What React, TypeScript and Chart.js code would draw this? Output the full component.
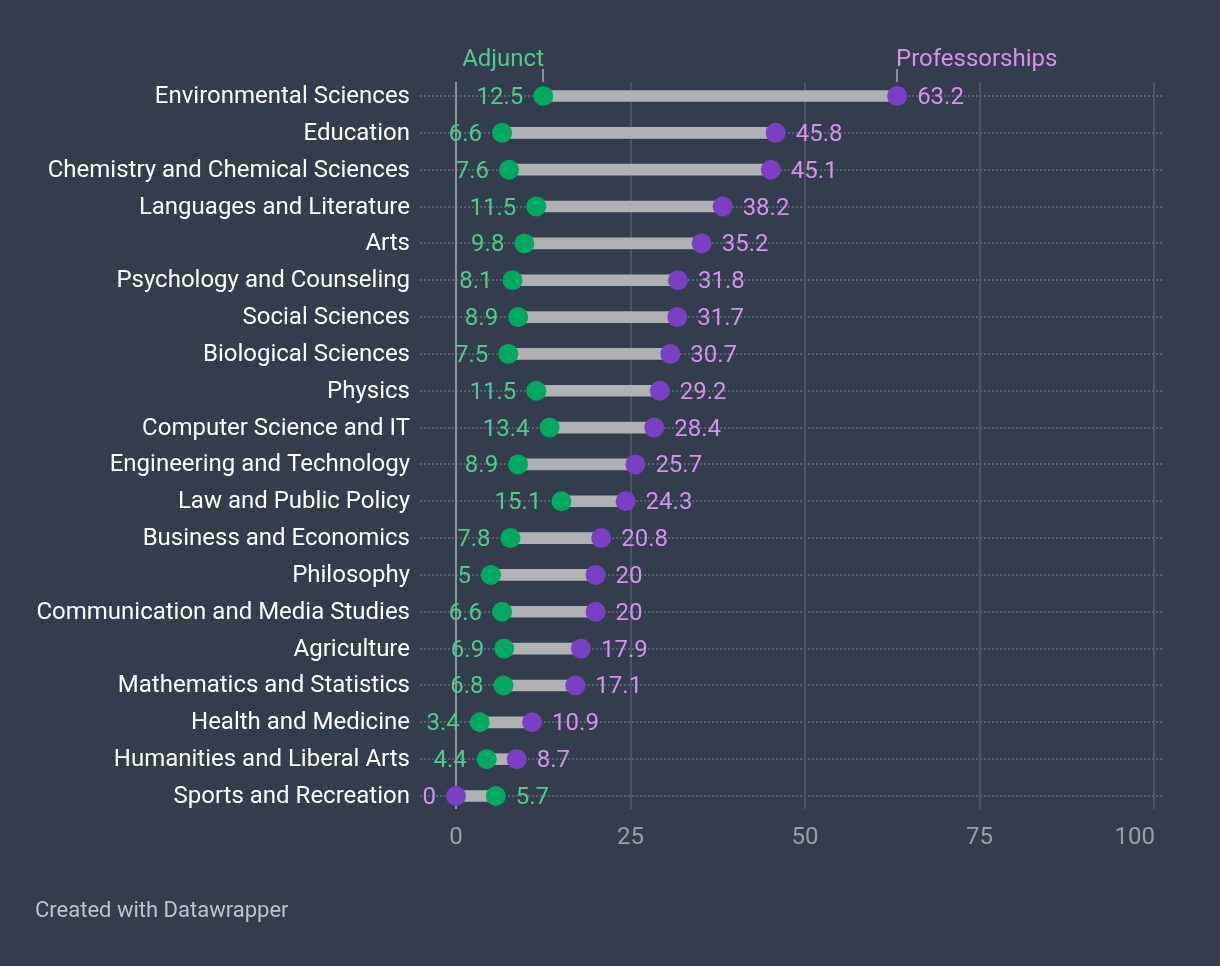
import React, { useEffect, useRef } from "react";
import { Chart, registerables } from "chart.js";

Chart.register(...registerables);

const categories = [
  "Environmental Sciences",
  "Education",
  "Chemistry and Chemical Sciences",
  "Languages and Literature",
  "Arts",
  "Psychology and Counseling",
  "Social Sciences",
  "Biological Sciences",
  "Physics",
  "Computer Science and IT",
  "Engineering and Technology",
  "Law and Public Policy",
  "Business and Economics",
  "Philosophy",
  "Communication and Media Studies",
  "Agriculture",
  "Mathematics and Statistics",
  "Health and Medicine",
  "Humanities and Liberal Arts",
  "Sports and Recreation",
];

const adjunct = [12.5, 6.6, 7.6, 11.5, 9.8, 8.1, 8.9, 7.5, 11.5, 13.4, 8.9, 15.1, 7.8, 5, 6.6, 6.9, 6.8, 3.4, 4.4, 5.7];
const professorships = [63.2, 45.8, 45.1, 38.2, 35.2, 31.8, 31.7, 30.7, 29.2, 28.4, 25.7, 24.3, 20.8, 20, 20, 17.9, 17.1, 10.9, 8.7, 0];
const xTicks = [0, 25, 50, 75, 100];
const seriesNames = ["Adjunct", "Professorships"];
const footerText = "Created with Datawrapper";

const BG = "#333d4d";
const GREEN = "#00a862";
const PURPLE = "#7b3fc4";
const GREEN_TEXT = "#4fcb8a";
const PURPLE_TEXT = "#d590f0";
const FONT = "Roboto";

const fmt = (v: number) => String(v);

const decorPlugin = {
  id: "decor",
  beforeDatasetsDraw(chart: any) {
    const ctx = chart.ctx;
    const xs = chart.scales.x;
    const ys = chart.scales.y;
    ctx.save();
    // dotted row lines
    ctx.strokeStyle = "#58616f";
    ctx.lineWidth = 2;
    ctx.setLineDash([2, 2]);
    categories.forEach((_, i) => {
      const y = Math.round(ys.getPixelForValue(i));
      ctx.beginPath();
      ctx.moveTo(420, y);
      ctx.lineTo(1164, y);
      ctx.stroke();
    });
    ctx.setLineDash([]);
    // vertical grid lines
    xTicks.forEach((t) => {
      const x = Math.round(xs.getPixelForValue(t));
      ctx.strokeStyle = t === 0 ? "#8c929b" : "#4b5564";
      ctx.lineWidth = 2;
      ctx.beginPath();
      ctx.moveTo(x, 82);
      ctx.lineTo(x, 809);
      ctx.stroke();
    });
    // x tick labels (last one right-aligned to its grid line)
    ctx.font = `24px ${FONT}`;
    ctx.fillStyle = "#9a9fa8";
    ctx.textBaseline = "alphabetic";
    xTicks.forEach((t, i) => {
      const x = xs.getPixelForValue(t);
      const last = i === xTicks.length - 1;
      ctx.textAlign = last ? "right" : "center";
      ctx.fillText(String(t), last ? x + 1 : x, 844);
    });
    ctx.restore();
  },
  afterDatasetsDraw(chart: any) {
    const ctx = chart.ctx;
    const xs = chart.scales.x;
    const ys = chart.scales.y;
    ctx.save();
    ctx.font = `24px ${FONT}`;
    ctx.textBaseline = "middle";
    categories.forEach((_, i) => {
      const y = ys.getPixelForValue(i);
      const a = adjunct[i];
      const p = professorships[i];
      const aLeft = a <= p;
      const ax = xs.getPixelForValue(a);
      const px = xs.getPixelForValue(p);
      ctx.fillStyle = GREEN_TEXT;
      ctx.textAlign = aLeft ? "right" : "left";
      ctx.fillText(fmt(a), aLeft ? ax - 20 : ax + 20, y + 2);
      ctx.fillStyle = PURPLE_TEXT;
      ctx.textAlign = aLeft ? "left" : "right";
      ctx.fillText(fmt(p), aLeft ? px + 20 : px - 20, y + 2);
    });
    // header annotations
    const ax0 = Math.round(xs.getPixelForValue(adjunct[0]));
    const px0 = Math.round(xs.getPixelForValue(professorships[0]));
    ctx.strokeStyle = "#8c929b";
    ctx.lineWidth = 2;
    [ax0, px0].forEach((x) => {
      ctx.beginPath();
      ctx.moveTo(x, 69);
      ctx.lineTo(x, 82);
      ctx.stroke();
    });
    ctx.textBaseline = "alphabetic";
    ctx.fillStyle = GREEN_TEXT;
    ctx.textAlign = "right";
    ctx.fillText(seriesNames[0], ax0 + 1, 66);
    ctx.fillStyle = PURPLE_TEXT;
    ctx.textAlign = "left";
    ctx.fillText(seriesNames[1], px0 - 1, 66);
    // footer
    ctx.font = `22px ${FONT}`;
    ctx.fillStyle = "#bfc3c9";
    ctx.textAlign = "left";
    ctx.textBaseline = "alphabetic";
    ctx.fillText(footerText, 35, 917);
    ctx.restore();
  },
};

export default function App() {
  const ref = useRef<HTMLCanvasElement | null>(null);

  useEffect(() => {
    document.body.style.margin = "0";
    document.body.style.background = BG;
    Chart.defaults.font.family = FONT;
    const chart = new Chart(ref.current as HTMLCanvasElement, {
      type: "bar",
      data: {
        labels: categories,
        datasets: [
          {
            type: "line",
            label: seriesNames[0],
            data: adjunct,
            indexAxis: "y",
            showLine: false,
            pointRadius: 10,
            pointBackgroundColor: GREEN,
            pointBorderWidth: 0,
            clip: false,
            order: 0,
          } as any,
          {
            type: "line",
            label: seriesNames[1],
            data: professorships,
            indexAxis: "y",
            showLine: false,
            pointRadius: 10,
            pointBackgroundColor: PURPLE,
            pointBorderWidth: 0,
            clip: false,
            order: 1,
          } as any,
          {
            type: "bar",
            label: "range",
            data: categories.map((_, i) => [
              Math.min(adjunct[i], professorships[i]),
              Math.max(adjunct[i], professorships[i]),
            ]),
            backgroundColor: "#b0b1b4",
            barThickness: 11,
            borderSkipped: false,
            clip: false,
            order: 2,
          } as any,
        ],
      },
      options: {
        indexAxis: "y",
        animation: false,
        responsive: false,
        events: [],
        layout: { padding: { top: 77.6, right: 66, bottom: 91.6, left: 0 } },
        plugins: { legend: { display: false }, tooltip: { enabled: false } },
        scales: {
          x: {
            type: "linear",
            min: 0,
            max: 100,
            afterFit: (s: any) => {
              s.height = 60;
            },
            afterBuildTicks: (s: any) => {
              s.ticks = xTicks.map((v) => ({ value: v }));
            },
            grid: { display: false, drawTicks: false },
            border: { display: false },
            ticks: { display: false },
          },
          y: {
            type: "category",
            offset: true,
            afterFit: (s: any) => {
              s.width = 456;
            },
            grid: { display: false, drawTicks: false },
            border: { display: false },
            ticks: {
              color: "#ffffff",
              font: { size: 24, family: FONT },
              padding: 46,
              labelOffset: 1,
              autoSkip: false,
            },
          },
        },
      },
      plugins: [decorPlugin],
    } as any);
    return () => chart.destroy();
  }, []);

  return <canvas ref={ref} width={1220} height={966} style={{ display: "block" }} />;
}
